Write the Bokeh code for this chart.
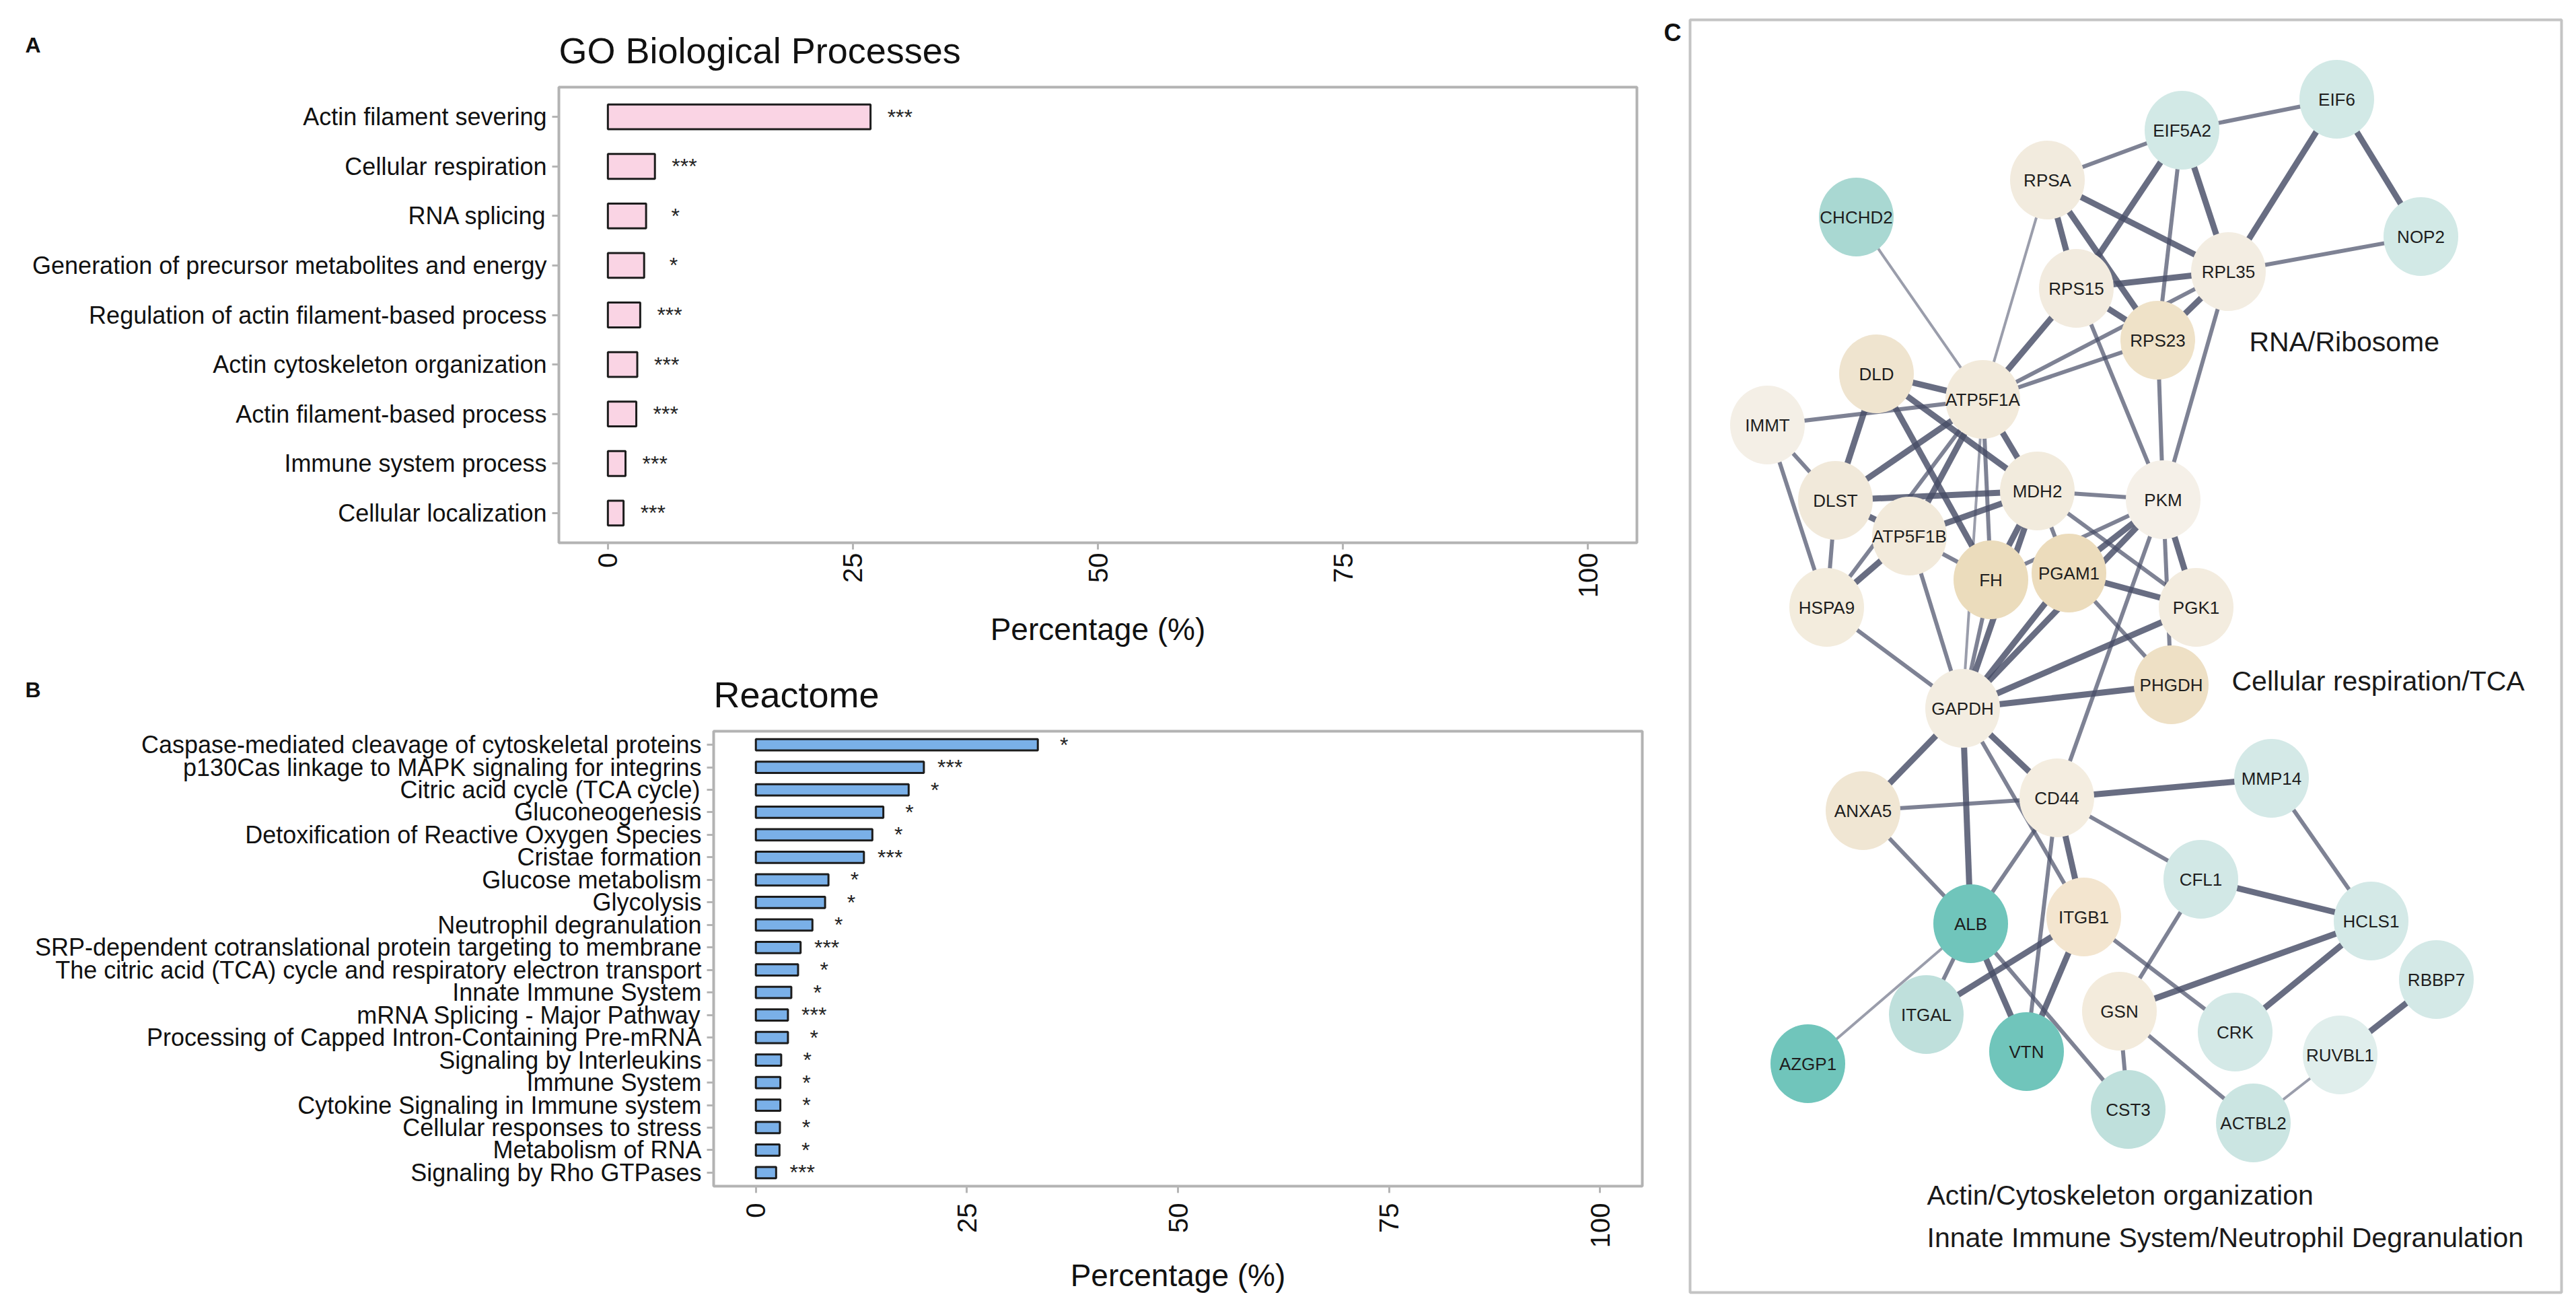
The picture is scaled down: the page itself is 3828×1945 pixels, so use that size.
import math
from bokeh.plotting import figure
from bokeh.models import Range1d, FixedTicker, ColumnDataSource
from bokeh.layouts import row, column
from bokeh.embed import file_html
from bokeh.resources import INLINE
from bokeh.core.properties import value

FONT = "Liberation Sans"

# ---------------- data ----------------
go_terms = ["Actin filament severing", "Cellular respiration", "RNA splicing",
            "Generation of precursor metabolites and energy",
            "Regulation of actin filament-based process", "Actin cytoskeleton organization",
            "Actin filament-based process", "Immune system process", "Cellular localization"]
go_pct = [26.8, 4.8, 3.9, 3.7, 3.3, 3.0, 2.9, 1.8, 1.6]
go_sig = ["***", "***", "*", "*", "***", "***", "***", "***", "***"]

re_terms = ["Caspase-mediated cleavage of cytoskeletal proteins",
            "p130Cas linkage to MAPK signaling for integrins",
            "Citric acid cycle (TCA cycle)", "Gluconeogenesis",
            "Detoxification of Reactive Oxygen Species", "Cristae formation",
            "Glucose metabolism", "Glycolysis", "Neutrophil degranulation",
            "SRP-dependent cotranslational protein targeting to membrane",
            "The citric acid (TCA) cycle and respiratory electron transport",
            "Innate Immune System", "mRNA Splicing - Major Pathway",
            "Processing of Capped Intron-Containing Pre-mRNA", "Signaling by Interleukins",
            "Immune System", "Cytokine Signaling in Immune system",
            "Cellular responses to stress", "Metabolism of RNA", "Signaling by Rho GTPases"]
re_pct = [33.4, 19.9, 18.1, 15.1, 13.8, 12.8, 8.6, 8.2, 6.7, 5.3, 5.0, 4.2, 3.8, 3.8,
          3.0, 2.9, 2.9, 2.85, 2.8, 2.4]
re_sig = ["*", "***", "*", "*", "*", "***", "*", "*", "*", "***", "*", "*", "***", "*",
          "*", "*", "*", "*", "*", "***"]

x_ticks = [0, 25, 50, 75, 100]

node_names = ["EIF6", "EIF5A2", "RPSA", "CHCHD2", "NOP2", "RPL35", "RPS15", "RPS23", "DLD",
              "ATP5F1A", "IMMT", "DLST", "MDH2", "PKM", "ATP5F1B", "FH", "PGAM1", "HSPA9",
              "PGK1", "PHGDH", "GAPDH", "MMP14", "CD44", "ANXA5", "CFL1", "ALB", "ITGB1",
              "HCLS1", "RBBP7", "GSN", "ITGAL", "CRK", "VTN", "RUVBL1", "AZGP1", "CST3", "ACTBL2"]
node_x = [3472, 3242, 3042, 2758, 3597, 3311, 3085, 3206, 2788,
          2946, 2626, 2727, 3027, 3214, 2837, 2958, 3074, 2714,
          3263, 3226, 2916, 3375, 3056, 2768, 3270, 2928, 3096,
          3523, 3620, 3149, 2862, 3321, 3011, 3477, 2686, 3162, 3348]
node_y = [147, 193, 267, 322, 351, 403, 428, 505, 555,
          593, 631, 743, 729, 742, 796, 861, 851, 902,
          902, 1017, 1052, 1156, 1185, 1204, 1306, 1372, 1362,
          1368, 1455, 1502, 1507, 1533, 1562, 1567, 1580, 1648, 1668]
node_color = ["#d2e9e6", "#d2e9e6", "#f2ebde", "#a9d8d2", "#d2e9e6", "#f3ede2", "#f2ebdf",
              "#efe2c8", "#efe4cf", "#f2eadb", "#f4efe6", "#f1e9da", "#f2ebdd", "#f5f0e8",
              "#f2eadb", "#ebdcbc", "#ecdcbc", "#f3ecdd", "#f3ecdf", "#eee0c5", "#f3ede1",
              "#d4e9e7", "#f4ede0", "#f0e6d3", "#d2e8e6", "#70c5bb", "#f3e5cf", "#d4e9e7",
              "#d4e9e7", "#f3ebdc", "#bfe0dc", "#d4e9e7", "#70c5bb", "#e0eeec", "#70c5bb",
              "#bfe0dc", "#cbe5e2"]

edge_a = ["EIF6", "EIF6", "RPSA", "RPSA", "RPSA", "RPS15", "RPS15", "RPS23", "EIF5A2",
          "EIF5A2", "EIF5A2", "EIF5A2", "EIF5A2", "NOP2", "RPS15", "ATP5F1A", "ATP5F1A",
          "RPSA", "RPS15", "RPS23", "RPL35", "CHCHD2", "DLD", "DLD", "DLD", "DLD", "IMMT",
          "IMMT", "IMMT", "ATP5F1A", "ATP5F1A", "ATP5F1A", "ATP5F1A", "ATP5F1A", "ATP5F1A",
          "DLST", "DLST", "DLST", "MDH2", "MDH2", "MDH2", "MDH2", "MDH2", "MDH2", "ATP5F1B",
          "ATP5F1B", "ATP5F1B", "PKM", "PKM", "PKM", "PKM", "PKM", "PKM", "PGAM1", "PGAM1",
          "PGAM1", "FH", "PGK1", "HSPA9", "GAPDH", "GAPDH", "GAPDH", "GAPDH", "GAPDH",
          "CD44", "CD44", "CD44", "CD44", "CD44", "CD44", "ANXA5", "ALB", "ALB", "ALB",
          "ALB", "ITGB1", "ITGB1", "ITGB1", "CFL1", "CFL1", "MMP14", "HCLS1", "HCLS1",
          "GSN", "GSN", "RUVBL1", "RUVBL1"]
edge_b = ["NOP2", "RPL35", "RPL35", "RPS15", "RPS23", "RPL35", "RPS23", "RPL35", "RPS15",
          "RPL35", "RPS23", "RPSA", "EIF6", "RPL35", "ATP5F1A", "RPS23", "RPL35",
          "ATP5F1A", "PKM", "PKM", "PKM", "ATP5F1A", "ATP5F1A", "DLST", "MDH2", "FH",
          "ATP5F1A", "DLST", "HSPA9", "DLST", "MDH2", "ATP5F1B", "FH", "HSPA9", "GAPDH",
          "MDH2", "ATP5F1B", "HSPA9", "PKM", "ATP5F1B", "FH", "PGAM1", "GAPDH", "PGK1",
          "HSPA9", "FH", "GAPDH", "PGAM1", "PGK1", "FH", "GAPDH", "PHGDH", "CD44", "PGK1",
          "GAPDH", "PHGDH", "GAPDH", "GAPDH", "GAPDH", "PHGDH", "ANXA5", "ALB", "CD44",
          "ITGB1", "ANXA5", "MMP14", "CFL1", "ALB", "ITGB1", "VTN", "ALB", "AZGP1", "ITGAL",
          "VTN", "CST3", "ITGAL", "VTN", "CRK", "HCLS1", "GSN", "HCLS1", "GSN", "CRK",
          "CST3", "ACTBL2", "RBBP7", "ACTBL2"]
edge_w = [3, 3, 3, 3, 3, 3, 3, 3, 3,
          3, 2, 2, 2, 2, 3, 2, 2,
          1, 2, 2, 2, 1, 3, 3, 3, 3, 2,
          2, 2, 3, 3, 3, 2, 2, 1,
          3, 3, 2, 2, 3, 3, 2, 3, 2, 3,
          2, 2, 3, 3, 2, 3, 2, 2, 3, 3,
          2, 2, 3, 2, 3, 3, 3, 3, 2,
          2, 3, 2, 2, 3, 2, 2, 1, 2, 3,
          2, 3, 3, 2, 3, 2, 2, 3, 3,
          2, 2, 3, 1]

cluster_labels = ["RNA/Ribosome", "Cellular respiration/TCA", "Actin/Cytoskeleton organization",
                  "Innate Immune System/Neutrophil Degranulation"]
cluster_x = [3342, 3316, 2863, 2863]
cluster_y = [507, 1011, 1775, 1838]

panel_c_box = [2511, 3806, 29, 1920]   # left, right, top, bottom of the network frame

LEFT_W = 2468      # width of the bar-chart column
TOTAL_W = 3812
TOTAL_H = 1929


def header_strip(y0, y1, letter, letter_y, title, title_x, title_y):
    s = figure(width=LEFT_W, height=y1 - y0, x_range=Range1d(0, LEFT_W),
               y_range=Range1d(y1, y0), output_backend="svg", toolbar_location=None,
               x_axis_type=None, y_axis_type=None, min_border_left=0, min_border_right=0,
               min_border_top=0, min_border_bottom=0)
    s.outline_line_color = None
    s.xgrid.visible = False
    s.ygrid.visible = False
    s.text(x=[37], y=[letter_y], text=[letter], text_font=value(FONT),
           text_font_size="32px", text_font_style="bold", text_align="left",
           text_baseline="middle", text_color="#111111")
    s.text(x=[title_x], y=[title_y], text=[title], text_font=value(FONT),
           text_font_size="54px", text_align="left", text_baseline="middle",
           text_color="#111111")
    return s


def bar_panel(terms, pct, sig, height, bl, br, bt, bb, fill, star_off,
              tick_standoff, axis_standoff):
    n = len(terms)
    ypos = [n - i for i in range(n)]
    p = figure(width=LEFT_W, height=height, x_range=Range1d(-5, 105),
               y_range=Range1d(0.4, n + 0.6), output_backend="svg", toolbar_location=None,
               min_border_left=bl, min_border_right=br, min_border_top=bt,
               min_border_bottom=bb)
    src = ColumnDataSource(dict(y=ypos, pct=pct, sig=sig,
                                sx=[v + star_off for v in pct]))
    p.hbar(y="y", left=0, right="pct", height=0.5, source=src, fill_color=fill,
           line_color="#1c1c1c", line_width=3)
    p.text(x="sx", y="y", text="sig", source=src, text_font=value(FONT),
           text_font_size="32px", text_align="center", text_baseline="middle",
           text_color="#222222")
    p.xgrid.visible = False
    p.ygrid.visible = False
    p.outline_line_color = "#b3b3b3"
    p.outline_line_width = 4
    p.background_fill_color = "white"
    p.border_fill_color = "white"

    p.xaxis.ticker = FixedTicker(ticks=x_ticks)
    p.yaxis.ticker = FixedTicker(ticks=ypos)
    p.yaxis.major_label_overrides = {y: t for y, t in zip(ypos, terms)}
    for ax in (p.xaxis, p.yaxis):
        ax.axis_line_color = None
        ax.minor_tick_line_color = None
        ax.major_tick_line_color = "#b5b5b5"
        ax.major_tick_line_width = 3
        ax.major_tick_in = 0
        ax.major_tick_out = 10
        ax.major_label_text_font = FONT
        ax.major_label_text_color = "#111111"
    p.yaxis.major_label_text_font_size = "36px"
    p.yaxis.major_label_standoff = 8
    p.xaxis.major_label_text_font_size = "40px"
    p.xaxis.major_label_orientation = math.pi / 2
    p.xaxis.major_label_standoff = tick_standoff
    p.xaxis.axis_label = "Percentage (%)"
    p.xaxis.axis_label_text_font = FONT
    p.xaxis.axis_label_text_font_style = "normal"
    p.xaxis.axis_label_text_font_size = "46px"
    p.xaxis.axis_label_text_color = "#111111"
    p.xaxis.axis_label_standoff = axis_standoff
    return p


stripA = header_strip(0, 112, "A", 66, "GO Biological Processes", 830, 74)
pA = bar_panel(go_terms, go_pct, go_sig, height=968 - 112, bl=830, br=LEFT_W - 2432,
               bt=129 - 112, bb=968 - 806, fill="#fad4e4", star_off=3.0,
               tick_standoff=5, axis_standoff=18)
stripB = header_strip(968, 1070, "B", 1024, "Reactome", 1060, 1031)
pB = bar_panel(re_terms, re_pct, re_sig, height=TOTAL_H - 1070, bl=1060, br=LEFT_W - 2440,
               bt=1086 - 1070, bb=TOTAL_H - 1762, fill="#7ab0e8", star_off=3.1,
               tick_standoff=15, axis_standoff=12)

# ---------------- network panel ----------------
pC = figure(width=TOTAL_W - LEFT_W, height=TOTAL_H, x_range=Range1d(LEFT_W, TOTAL_W),
            y_range=Range1d(TOTAL_H, 0), output_backend="svg", toolbar_location=None,
            x_axis_type=None, y_axis_type=None,
            min_border_left=0, min_border_right=0, min_border_top=0, min_border_bottom=0)
pC.xgrid.visible = False
pC.ygrid.visible = False
pC.outline_line_color = None
pC.background_fill_color = "white"
pC.border_fill_color = "white"

L, R, T, B = panel_c_box
pC.quad(left=[L], right=[R], top=[T], bottom=[B], fill_color=None,
        line_color="#c4c4c4", line_width=4)

idx = {n: i for i, n in enumerate(node_names)}
width_map = {1: 4, 2: 6, 3: 9}
alpha_map = {1: 0.55, 2: 0.7, 3: 0.82}
esrc = ColumnDataSource(dict(
    x0=[node_x[idx[a]] for a in edge_a], y0=[node_y[idx[a]] for a in edge_a],
    x1=[node_x[idx[b]] for b in edge_b], y1=[node_y[idx[b]] for b in edge_b],
    lw=[width_map[w] for w in edge_w], la=[alpha_map[w] for w in edge_w]))
pC.segment(x0="x0", y0="y0", x1="x1", y1="y1", source=esrc, line_color="#474d66",
           line_width="lw", line_alpha="la", line_cap="butt")

nsrc = ColumnDataSource(dict(x=node_x, y=node_y, c=node_color, name=node_names))
pC.ellipse(x="x", y="y", width=111, height=117, source=nsrc, fill_color="c",
           line_color=None)
pC.text(x="x", y="y", text="name", source=nsrc, text_font=value(FONT),
        text_font_size="26px", text_align="center", text_baseline="middle",
        text_color="#1e1e1e")

csrc = ColumnDataSource(dict(x=cluster_x, y=cluster_y, t=cluster_labels))
pC.text(x="x", y="y", text="t", source=csrc, text_font=value(FONT), text_font_size="41px",
        text_align="left", text_baseline="middle", text_color="#1a1a1a")

pC.text(x=[2472], y=[48], text=["C"], text_font=value(FONT), text_font_size="36px",
        text_font_style="bold", text_align="left", text_baseline="middle",
        text_color="#111111")

layout = row(column(stripA, row(pA), stripB, row(pB)), pC)
open("out.html", "w").write(file_html(layout, INLINE))
